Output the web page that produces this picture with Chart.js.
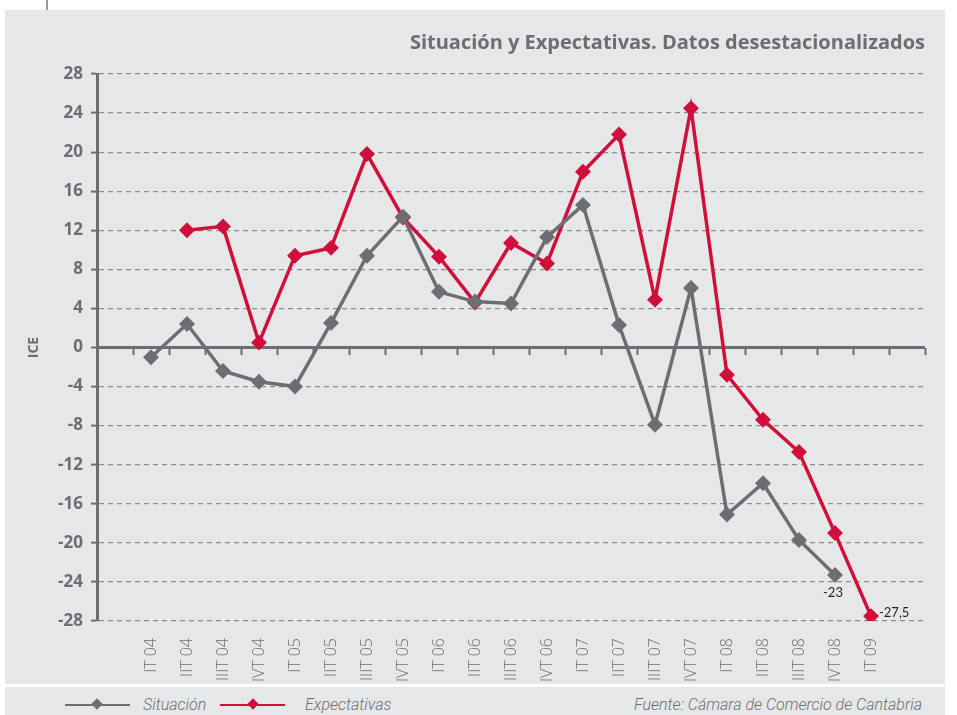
<!DOCTYPE html>
<html>
<head>
<meta charset="utf-8">
<script src="https://cdn.jsdelivr.net/npm/chart.js@4/dist/chart.umd.min.js"></script>
<style>
  body { margin:0; background:#fff; width:957px; height:715px; position:relative; overflow:hidden; font-family:Lato, sans-serif; }
  .tick { position:absolute; left:46px; top:0; width:2px; height:10px; background:#9a9a9a; }
  .panel { position:absolute; left:5px; top:10px; width:940px; height:674px; background:#e6e7e8; }
  .foot { position:absolute; left:5px; top:687px; width:940px; height:28px; background:#e6e7e8; }
  #c { position:absolute; left:0; top:0; }
  .leg { position:absolute; top:6px; height:24px; line-height:24px; font-family:Roboto, sans-serif; font-style:italic; font-weight:300; font-size:16px; color:#6d6e71; white-space:nowrap; }
  .ln { position:absolute; top:17px; height:2px; width:65px; }
  .dm { position:absolute; top:13px; width:8px; height:8px; transform:rotate(45deg); }
</style>
</head>
<body>
<div class="tick"></div>
<div class="panel"></div>
<div class="foot">
  <div class="ln" style="left:60px;background:#6d6e71"></div>
  <div class="dm" style="left:88px;background:#6d6e71"></div>
  <div class="leg" style="left:138px">Situación</div>
  <div class="ln" style="left:215px;background:#d0103a"></div>
  <div class="dm" style="left:244px;background:#d0103a"></div>
  <div class="leg" style="left:300px">Expectativas</div>
  <div class="leg" style="right:23px">Fuente: Cámara de Comercio de Cantabria</div>
</div>
<canvas id="c" width="957" height="684"></canvas>
<script>
const categories = ['', 'IT 04', 'IIT 04', 'IIIT 04', 'IVT 04', 'IT 05', 'IIT 05', 'IIIT 05', 'IVT 05',
  'IT 06', 'IIT 06', 'IIIT 06', 'IVT 06', 'IT 07', 'IIT 07', 'IIIT 07', 'IVT 07',
  'IT 08', 'IIT 08', 'IIIT 08', 'IVT 08', 'IT 09', ''];
const situacion = [null, -1.0, 2.4, -2.4, -3.5, -4.0, 2.5, 9.4, 13.4, 5.7, 4.7, 4.5, 11.3,
  14.6, 2.3, -7.9, 6.1, -17.1, -13.9, -19.7, -23.3, null, null];
const expectativas = [null, null, 12.0, 12.4, 0.5, 9.4, 10.2, 19.8, 13.3, 9.3, 4.6, 10.7, 8.6,
  18.0, 21.8, 4.9, 24.5, -2.8, -7.4, -10.7, -19.0, -27.5, null];
const yTicks = [28, 24, 20, 16, 12, 8, 4, 0, -4, -8, -12, -16, -20, -24, -28];
// value labels: [dataset index, point index, text]
const valueLabels = [[0, 20, '-23'], [1, 21, '-27,5']];

const GRAY = '#6d6e71', RED = '#d0103a';

const valueLabelPlugin = {
  id: 'valueLabels',
  afterDatasetsDraw(chart) {
    const ctx = chart.ctx;
    ctx.save();
    ctx.font = '13px Lato, sans-serif';
    ctx.fillStyle = '#231f20';
    valueLabels.forEach(([ds, i, txt]) => {
      const pt = chart.getDatasetMeta(ds).data[i];
      if (ds === 0) {
        ctx.textAlign = 'center'; ctx.textBaseline = 'top';
        ctx.fillText(txt, pt.x - 2, pt.y + 11);
      } else {
        ctx.textAlign = 'left'; ctx.textBaseline = 'middle';
        ctx.fillText(txt, pt.x + 8, pt.y - 3);
      }
    });
    ctx.restore();
  }
};

new Chart(document.getElementById('c'), {
  type: 'line',
  data: {
    labels: categories,
    datasets: [
      { label: 'Situación', data: situacion, borderColor: GRAY, backgroundColor: GRAY,
        borderWidth: 3.5, pointStyle: 'rectRot', pointRadius: 5.5, tension: 0 },
      { label: 'Expectativas', data: expectativas, borderColor: RED, backgroundColor: RED,
        borderWidth: 3.5, pointStyle: 'rectRot', pointRadius: 5.5, tension: 0 }
    ]
  },
  options: {
    responsive: false,
    animation: false,
    layout: { padding: { left: 0, right: 32, top: 0, bottom: 0 } },
    plugins: {
      legend: { display: false },
      tooltip: { enabled: false },
      title: {
        display: true, align: 'end', color: GRAY,
        text: 'Situación y Expectativas. Datos desestacionalizados',
        font: { family: 'Open Sans', size: 20, weight: 'bold' },
        padding: { top: 31, bottom: 19 }
      }
    },
    scales: {
      x: {
        type: 'category', position: { y: 0 }, offset: true,
        grid: { offset: true, drawOnChartArea: false, drawTicks: true, tickLength: 7, tickWidth: 2, tickColor: GRAY },
        border: { display: false },
        ticks: { display: false }
      },
      x2: {
        type: 'category', position: 'bottom', offset: true, labels: categories,
        grid: { display: false }, border: { display: false },
        ticks: { color: GRAY, minRotation: 90, maxRotation: 90, autoSkip: false, padding: 9,
          font: { family: 'Open Sans', size: 16, weight: '300' } },
        afterFit(s) { s.height = 63; }
      },
      y: {
        min: -28, max: 28,
        afterBuildTicks(s) { s.ticks = yTicks.map(v => ({ value: v })); },
        afterFit(s) { s.width = 97; },
        title: { display: true, text: 'ICE', color: GRAY, font: { family: 'Open Sans', size: 14, weight: 'bold' }, padding: { top: 26, bottom: 0 } },
        ticks: { color: GRAY, padding: 8, font: { family: 'Open Sans', size: 17, weight: 'bold' } },
        border: { color: GRAY, width: 3, dash: c => (c.tick && c.tick.value === 0 ? [] : [5, 4]) },
        grid: {
          color: c => (c.tick && c.tick.value === 0 ? GRAY : '#8d8e90'),
          lineWidth: c => (c.tick && c.tick.value === 0 ? 3 : 1.2),
          drawTicks: true, tickLength: 6, tickWidth: 2, tickColor: GRAY
        }
      }
    }
  },
  plugins: [valueLabelPlugin]
});
</script>
</body>
</html>
